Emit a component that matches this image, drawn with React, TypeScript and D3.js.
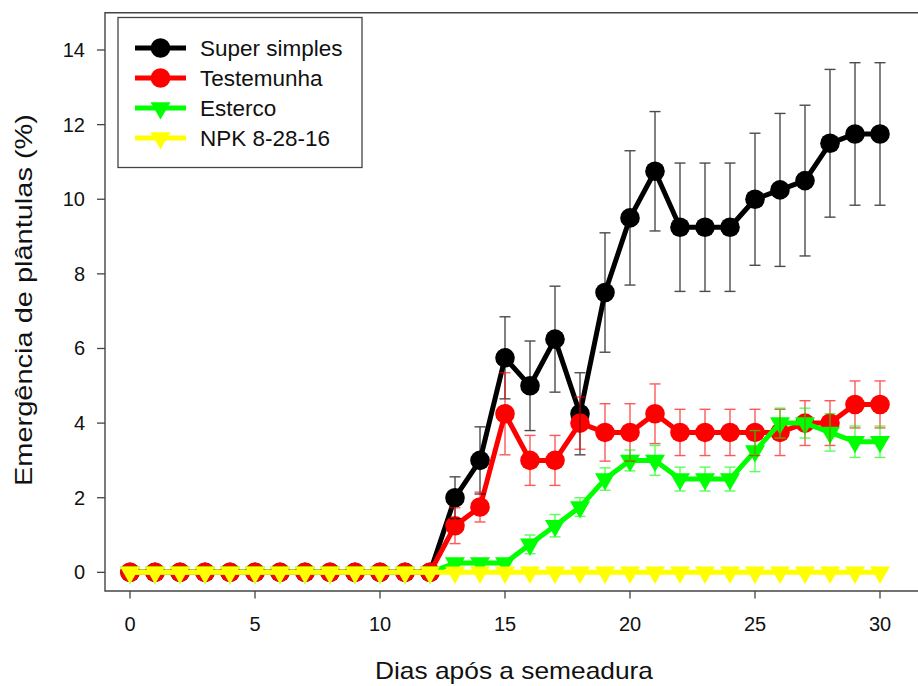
import React from "react";
import * as d3 from "d3";

const days = [0,1,2,3,4,5,6,7,8,9,10,11,12,13,14,15,16,17,18,19,20,21,22,23,24,25,26,27,28,29,30];

const superSimples = [0,0,0,0,0,0,0,0,0,0,0,0,0,2.0,3.0,5.75,5.0,6.25,4.25,7.5,9.5,10.75,9.25,9.25,9.25,10.0,10.25,10.5,11.5,11.75,11.75];
const superSimplesErr = [0,0,0,0,0,0,0,0,0,0,0,0,0,0.56,0.9,1.1,1.2,1.42,1.1,1.6,1.8,1.6,1.72,1.72,1.72,1.77,2.05,2.02,1.98,1.91,1.91];

const testemunha = [0,0,0,0,0,0,0,0,0,0,0,0,0,1.25,1.75,4.25,3.0,3.0,4.0,3.75,3.75,4.25,3.75,3.75,3.75,3.75,3.75,4.0,4.0,4.5,4.5];
const testemunhaErr = [0,0,0,0,0,0,0,0,0,0,0,0,0,0.48,0.4,1.1,0.67,0.67,0.7,0.77,0.77,0.8,0.62,0.62,0.62,0.62,0.62,0.6,0.6,0.63,0.63];

const esterco = [0,0,0,0,0,0,0,0,0,0,0,0,0,0.25,0.25,0.25,0.75,1.25,1.75,2.5,3.0,3.0,2.5,2.5,2.5,3.25,4.0,4.0,3.75,3.5,3.5];
const estercoErr = [0,0,0,0,0,0,0,0,0,0,0,0,0,0,0,0,0.25,0.3,0.25,0.3,0.28,0.4,0.32,0.32,0.32,0.55,0.4,0.4,0.5,0.42,0.42];

const npk = [0,0,0,0,0,0,0,0,0,0,0,0,0,0,0,0,0,0,0,0,0,0,0,0,0,0,0,0,0,0,0];

const seriesNames = ["Super simples", "Testemunha", "Esterco", "NPK 8-28-16"];
const seriesColors = ["#000000", "#ff0000", "#00ff00", "#ffff00"];
const seriesMarkers = ["circle", "circle", "triangle", "triangle"];
const seriesValues = [superSimples, testemunha, esterco, npk];
const seriesErrors = [superSimplesErr, testemunhaErr, estercoErr, null];

const xTicks = [0, 5, 10, 15, 20, 25, 30];
const yTicks = [0, 2, 4, 6, 8, 10, 12, 14];

const FONT = "Arial, 'Liberation Sans', sans-serif";

function Marker({ type, x, y, color }: { type: string; x: number; y: number; color: string }) {
  if (type === "circle") return <circle cx={x} cy={y} r={9.8} fill={color} />;
  const s = 20;
  const h = s * Math.sqrt(3) / 2;
  const top = y - h / 3;
  const bot = y + (2 * h) / 3;
  return <path d={`M${x - s / 2},${top}L${x + s / 2},${top}L${x},${bot}Z`} fill={color} />;
}

export default function App() {
  const W = 918, H = 686;
  const left = 105, top = 12.7, bottom = 591, rightEdge = 920;
  const x = d3.scaleLinear().domain([0, 30]).range([130, 880]);
  const y = d3.scaleLinear().domain([-0.5, 15]).range([bottom, top]);
  const line = d3.line<number>().x((_, i) => x(days[i])).y((v) => y(v));
  const axisColor = "#444";

  return (
    <svg width={W} height={H} style={{ position: "absolute", left: 0, top: 0, background: "#fff" }} fontFamily={FONT}>
      <rect x={0} y={0} width={W} height={H} fill="#fff" />
      {/* frame */}
      <path d={`M${rightEdge},${top}H${left}V${bottom}H${rightEdge}`} fill="none" stroke={axisColor} strokeWidth={1.4} />
      {/* y ticks */}
      {yTicks.map((t) => (
        <g key={"y" + t}>
          <line x1={left - 8} x2={left} y1={y(t)} y2={y(t)} stroke={axisColor} strokeWidth={1.3} />
          <text x={85} y={y(t)} dy="0.35em" textAnchor="end" fontSize={20} fill="#111">{t}</text>
        </g>
      ))}
      {/* x ticks */}
      {xTicks.map((t) => (
        <g key={"x" + t}>
          <line x1={x(t)} x2={x(t)} y1={bottom} y2={bottom + 7.5} stroke={axisColor} strokeWidth={1.3} />
          <text x={x(t)} y={630.5} textAnchor="middle" fontSize={20} fill="#111">{t}</text>
        </g>
      ))}
      {/* axis titles */}
      <text x={514} y={679} textAnchor="middle" fontSize={24} fill="#111" textLength={278} lengthAdjust="spacingAndGlyphs">Dias após a semeadura</text>
      <text transform="translate(32,300) rotate(-90)" textAnchor="middle" fontSize={24} fill="#111" textLength={372} lengthAdjust="spacingAndGlyphs">Emergência de plântulas (%)</text>

      {/* series lines and markers */}
      {seriesValues.map((vals, si) => (
        <g key={"s" + si}>
          <path d={line(vals) || ""} fill="none" stroke={seriesColors[si]} strokeWidth={5} strokeLinejoin="round" />
          {vals.map((v, i) => (
            <Marker key={i} type={seriesMarkers[si]} x={x(days[i])} y={y(v)} color={seriesColors[si]} />
          ))}
        </g>
      ))}

      {/* error bars */}
      {seriesErrors.map((errs, si) =>
        errs ? (
          <g key={"e" + si} stroke={seriesColors[si]} strokeWidth={1.4} opacity={si === 0 ? 0.7 : 0.65}>
            {errs.map((e, i) => {
              if (!e) return null;
              const cx = x(days[i]);
              const y1 = y(seriesValues[si][i] + e);
              const y2 = y(seriesValues[si][i] - e);
              return (
                <g key={i}>
                  <line x1={cx} x2={cx} y1={y1} y2={y2} />
                  <line x1={cx - 5.5} x2={cx + 5.5} y1={y1} y2={y1} />
                  <line x1={cx - 5.5} x2={cx + 5.5} y1={y2} y2={y2} />
                </g>
              );
            })}
          </g>
        ) : null
      )}

      {/* legend */}
      <rect x={118} y={17.5} width={244} height={150} fill="#fff" stroke={axisColor} strokeWidth={1.3} />
      {seriesNames.map((name, i) => {
        const ly = 48 + i * 30;
        return (
          <g key={"l" + i}>
            <line x1={135} x2={186} y1={ly} y2={ly} stroke={seriesColors[i]} strokeWidth={5} />
            <Marker type={seriesMarkers[i]} x={160.5} y={ly} color={seriesColors[i]} />
            <text x={200} y={ly} dy="0.35em" fontSize={22.5} fill="#111">{name}</text>
          </g>
        );
      })}
    </svg>
  );
}
